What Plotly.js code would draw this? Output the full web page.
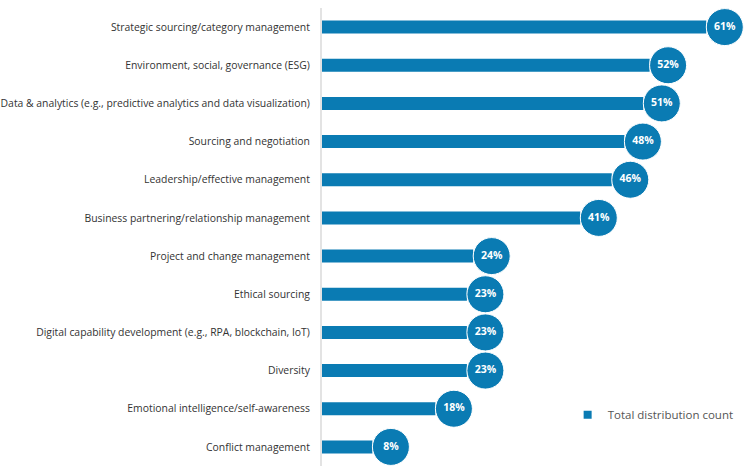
<!DOCTYPE html>
<html>
<head>
<meta charset="utf-8">
<script src="https://cdn.plot.ly/plotly-3.0.1.min.js"></script>
<style>html,body{margin:0;padding:0;background:#fff;}#chart{width:756px;height:470px;}</style>
</head>
<body>
<div id="chart"></div>
<script>
const categories = [
  "Strategic sourcing/category management",
  "Environment, social, governance (ESG)",
  "Data & analytics (e.g., predictive analytics and data visualization)",
  "Sourcing and negotiation",
  "Leadership/effective management",
  "Business partnering/relationship management",
  "Project and change management",
  "Ethical sourcing",
  "Digital capability development (e.g., RPA, blockchain, IoT)",
  "Diversity",
  "Emotional intelligence/self-awareness",
  "Conflict management"
];
const values = [61, 52, 51, 48, 46, 41, 24, 23, 23, 23, 18, 8];
const labels = values.map(v => v + "%");
const seriesName = "Total distribution count";

const color = "#0a7bb3";
const pxPerUnit = 6.3;
const plotWidth = 756 - 322;
const xMax = plotWidth / pxPerUnit;
const shift = 18.5 / pxPerUnit; // marker sits just past bar end

const data = [
  {
    type: "bar",
    orientation: "h",
    y: categories,
    x: values,
    name: seriesName,
    marker: {color: color},
    width: 0.34,
    hoverinfo: "x+y",
    showlegend: false
  },
  {
    type: "scatter",
    mode: "markers+text",
    y: categories,
    x: values,
    xaxis: "x2",
    text: labels,
    textposition: "middle center",
    textfont: {family: "Open Sans", size: 10.5, color: "#ffffff", weight: 700},
    marker: {size: 37, color: color, line: {color: "#ffffff", width: 1}},
    cliponaxis: false,
    showlegend: false,
    hoverinfo: "skip"
  },
  {
    type: "scatter",
    mode: "markers",
    x: [null],
    y: [null],
    name: seriesName,
    marker: {symbol: "square", size: 8, color: color},
    showlegend: true,
    hoverinfo: "skip"
  }
];

const layout = {
  width: 756,
  height: 470,
  margin: {l: 322, r: 0, t: 8, b: 4},
  paper_bgcolor: "#ffffff",
  plot_bgcolor: "#ffffff",
  font: {family: "Open Sans", size: 10.5, color: "#333333"},
  xaxis: {range: [0, xMax], visible: false, fixedrange: true, automargin: false},
  xaxis2: {range: [-shift, xMax - shift], overlaying: "x", visible: false, fixedrange: true, automargin: false},
  yaxis: {
    autorange: false,
    range: [categories.length - 0.5, -0.5],
    automargin: false,
    showline: true,
    linecolor: "#e3e3e3",
    linewidth: 2,
    showgrid: false,
    zeroline: false,
    ticks: "outside",
    ticklen: 8,
    tickcolor: "rgba(0,0,0,0)",
    tickfont: {family: "Open Sans", size: 10.4, color: "#333333"}
  },
  showlegend: true,
  legend: {
    x: 0.96, y: 0.112, xanchor: "right", yanchor: "middle",
    font: {family: "Open Sans", size: 11.5, color: "#555555"},
    bgcolor: "rgba(0,0,0,0)",
    itemwidth: 30
  }
};

Plotly.newPlot("chart", data, layout, {displayModeBar: false, staticPlot: true});
</script>
</body>
</html>
